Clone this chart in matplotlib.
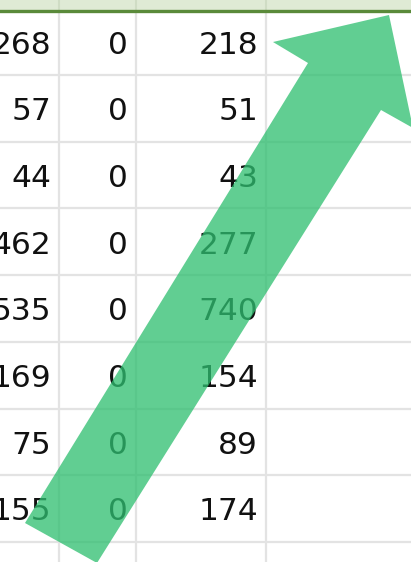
import matplotlib.pyplot as plt
from matplotlib.patches import Polygon, Rectangle

# cell values, top to bottom
col_a = [268, 57, 44, 462, 535, 169, 75, 155]
col_b = [0, 0, 0, 0, 0, 0, 0, 0]
col_c = [218, 51, 43, 277, 740, 154, 89, 174]

W, H = 411, 562
fig = plt.figure(figsize=(W / 100, H / 100), dpi=100)
ax = fig.add_axes([0, 0, 1, 1])
ax.set_xlim(0, W)
ax.set_ylim(H, 0)
ax.axis('off')

# grid
col_lines = [59, 136, 266]
row_h = 66.7
first_line = 75
row_lines = [first_line + k * row_h for k in range(len(col_a))]
for x in col_lines:
    ax.plot([x, x], [0, H], color='#e3e3e3', lw=1.6, zorder=1)
for y in row_lines:
    ax.plot([0, W], [y, y], color='#e3e3e3', lw=1.6, zorder=1)

# header strip
ax.add_patch(Rectangle((0, 0), W, 10, color='#dfead5', zorder=2))
for x in col_lines:
    ax.plot([x, x], [0, 10], color='#cfdcc4', lw=1.5, zorder=2)
ax.plot([0, W], [11, 11], color='#5a8a3a', lw=2.4, zorder=3)

# numbers, right aligned in their cells
right_edges = [51, 128, 258]
for i, y in enumerate(row_lines):
    yc = y - 30
    for x, col in zip(right_edges, [col_a, col_b, col_c]):
        ax.text(x, yc, str(col[i]), ha='right', va='center', fontsize=22.5,
                family='DejaVu Sans', color='#111111', zorder=4)

# big green arrow on top
arrow = [(389, 15), (413, 128), (381, 110), (97, 563), (25, 523),
         (308, 63), (273, 42)]
ax.add_patch(Polygon(arrow, closed=True, facecolor='#2fbf70', edgecolor='none',
                     alpha=0.76, zorder=5))

fig.savefig('out.png', dpi=100)
